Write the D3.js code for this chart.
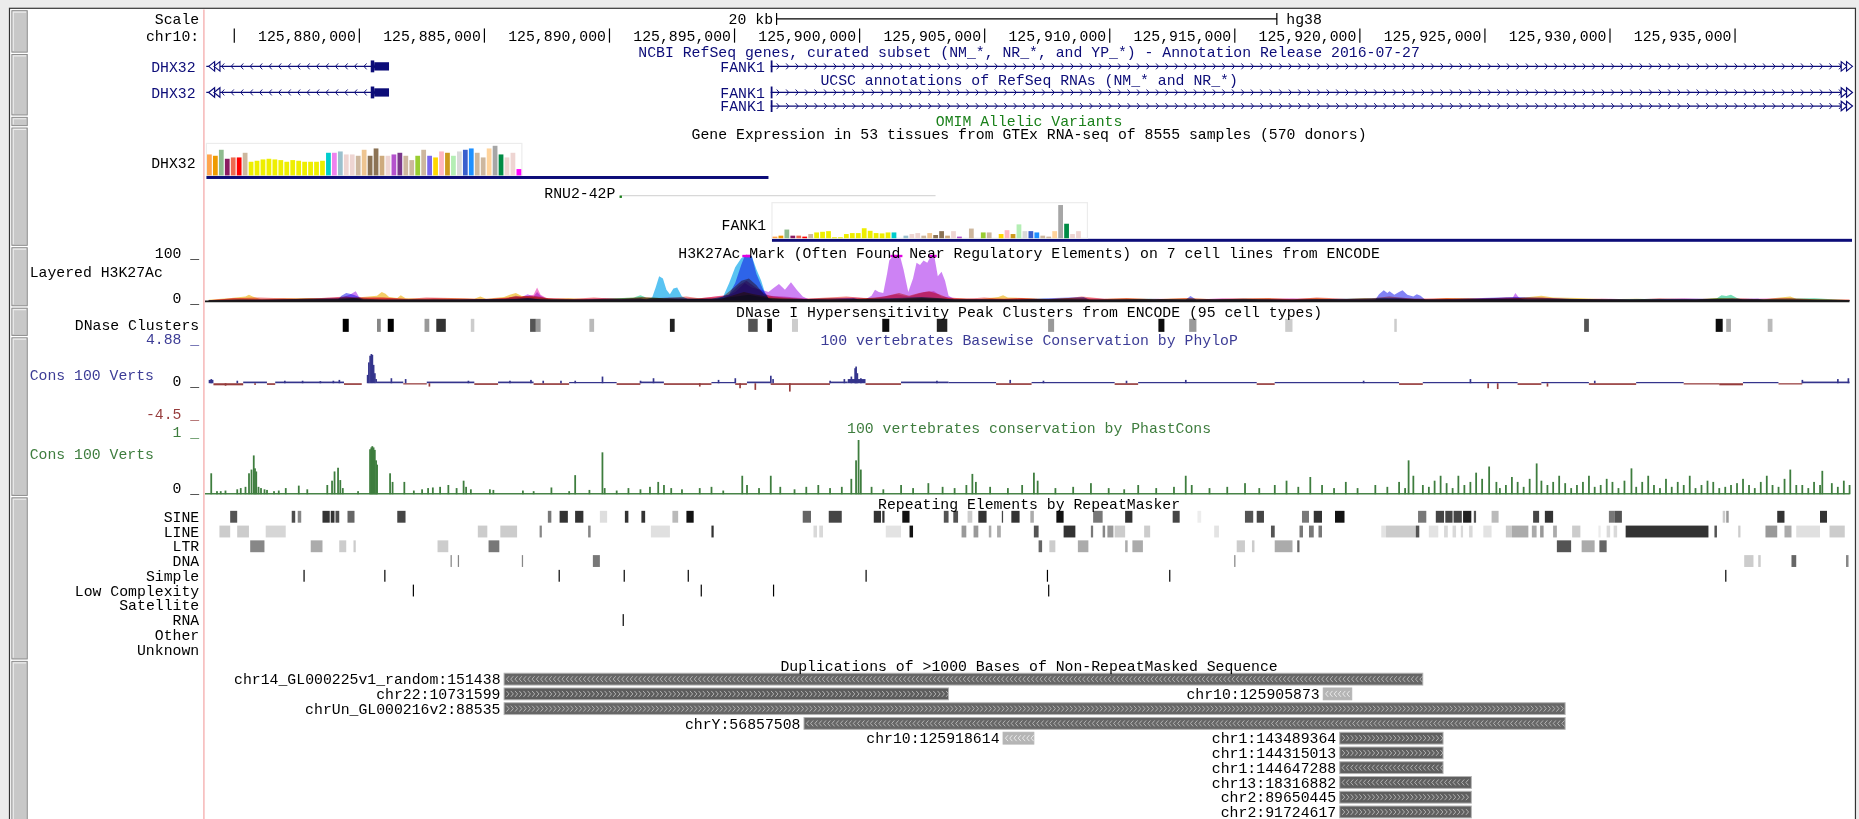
<!DOCTYPE html>
<html>
<head>
<meta charset="utf-8">
<title>chr10:125,873,810-125,939,600</title>
<script src="https://cdn.jsdelivr.net/npm/d3@7"></script>
<style>
  html, body { margin: 0; padding: 0; background: #fff; }
  svg { display: block; }
</style>
</head>
<body>
<svg id="browser"></svg>
<script>
// positions are kb past chr10:125,870,000
const CHROM_OFFSET = 125870000;
const viewStartKb = 3.81;
const viewEndKb = 69.60;
const rulerTicksKb = [5, 10, 15, 20, 25, 30, 35, 40, 45, 50, 55, 60, 65];

// RefSeq genes
const geneNames = ['DHX32', 'FANK1'];
const geneStrands = ['-', '+'];
const geneTx = [[3.2, 11.21], [26.47, 82.0]];
const geneExons = [[[10.48, 10.62, 1], [10.62, 11.21, 0]], [[26.47, 26.53, 1]]];
const ncbiRows = [['DHX32', 'FANK1']];
const ucscRows = [['DHX32', 'FANK1'], ['FANK1']];

// GTEx
const gtexColors = ['#FFA54F','#EE9A00','#8FBC8F','#8B1C62','#EE6A50','#FF0000','#CDB79E',
  '#EEEE00','#EEEE00','#EEEE00','#EEEE00','#EEEE00','#EEEE00','#EEEE00','#EEEE00','#EEEE00','#EEEE00','#EEEE00','#EEEE00','#EEEE00',
  '#00CDCD','#EE82EE','#9AC0CD','#EED5D2','#EED5D2','#CDB79E','#EEC591','#8B7355','#8B7355','#CDAA7D','#EED5D2',
  '#B452CD','#7A378B','#CDB79E','#CDB79E','#9ACD32','#CDB79E','#7A67EE','#FFD700','#FFB6C1','#CD9B1D','#B4EEB4',
  '#D9D9D9','#3A5FCD','#1E90FF','#CDB79E','#CDB79E','#FFD39B','#A6A6A6','#008B45','#EED5D2','#EED5D2','#FF00FF'];
const gtexDHX32 = [6.3,5.9,7.7,5.0,5.4,5.4,6.8,4.1,4.4,4.8,5.0,4.8,4.6,4.1,4.6,4.4,4.1,4.1,4.1,4.4,
  6.8,6.8,7.2,6.3,6.3,5.9,7.7,5.9,8.1,5.9,5.9,6.3,6.8,5.9,4.6,5.9,7.7,5.9,5.4,7.2,6.8,5.9,7.2,7.7,8.1,6.8,5.4,8.1,8.9,6.3,5.4,6.8,1.9];
const gtexFANK1 = [0.5,0.8,2.7,0.8,0.8,0.5,1.3,1.8,2.0,2.2,0.3,0.3,1.3,1.6,1.6,3.1,2.3,1.6,1.5,1.8,
  1.8,0,0.8,1.3,1.6,0.8,1.6,1.0,2.2,0.8,2.2,0.5,0,3.0,0,1.8,1.8,0,1.3,2.5,1.3,4.3,2.2,2.2,1.8,0.8,0.5,2.2,10.3,4.5,1.3,2.2,0];
const gtexGenes = ['DHX32', 'RNU2-42P', 'FANK1'];
const gtexStarts = [3.91, 20.45, 26.52];
const gtexEnds = [26.38, 20.50, 82.0];

// H3K27Ac layered signal, 7 cell lines, [kb, signal]
const h3GM12878 = [[4.0,2],[5.0,6],[6.0,8],[7.5,5],[8.5,7],[9.5,10],[10.0,6],[11.0,8],[12.0,5],[12.7,8],[14.2,6],[15.2,4],[16.3,10],[17.0,12],[17.6,6],[18.6,5],[19.4,8],[20.5,4],[21.3,9],[22.2,6],[23.1,10],[23.6,6],[24.6,12],[25.0,30],[25.3,45],[25.6,50],[25.9,35],[26.2,15],[26.6,10],[27.0,8],[27.8,5],[28.4,7],[29.5,10],[30.3,6],[31.0,10],[31.6,18],[32.0,12],[32.4,18],[32.8,22],[33.2,15],[33.6,6],[34.3,5],[35.0,8],[35.8,5],[36.5,7],[37.3,4],[38.3,6],[38.9,10],[39.8,5],[40.7,7],[41.8,4],[43.1,7],[44.2,4],[45.3,6],[46.4,7],[47.4,4],[48.3,8],[49.5,5],[50.5,6],[51.2,10],[52.2,5],[53.5,7],[54.7,5],[55.9,8],[57.3,6],[58.5,4],[59.7,5],[60.8,3],[62.0,6],[63.4,4],[64.9,7],[66.0,4],[67.2,6],[68.3,4],[69.6,3]];
const h3H1 = [[4.0,3],[4.9,7],[5.47,10],[5.61,14],[5.76,10],[6.09,4],[7.0,6],[8.0,7],[8.9,5],[9.6,6],[10.73,12],[10.92,20],[11.07,16],[11.21,9],[11.54,7],[11.68,13],[11.87,6],[12.7,5],[13.7,6],[14.62,5],[14.86,10],[15.09,5],[15.81,9],[16.04,14],[16.28,18],[16.52,11],[17.0,9],[17.8,5],[18.4,6],[19.3,4],[20.3,6],[21.26,8],[22.0,7],[22.8,4],[23.6,6],[24.5,5],[25.4,20],[25.8,15],[26.6,7],[27.6,4],[28.8,6],[29.6,4],[30.3,7],[31.2,5],[32.5,8],[33.3,6],[34.05,6],[34.8,4],[35.57,9],[35.76,13],[35.95,8],[36.9,6],[37.6,4],[38.3,7],[39.5,4],[40.7,6],[41.8,4],[43.0,6],[44.2,4],[45.4,5],[46.4,6],[47.3,4],[48.3,7],[49.2,4],[50.2,6],[51.0,5],[52.8,4],[53.5,7],[54.4,6],[55.5,4],[56.3,6],[56.8,9],[57.28,12],[57.75,8],[58.7,7],[59.8,4],[61.1,5],[62.3,3],[63.5,4],[64.3,7],[65.1,5],[66.2,4],[67.23,10],[67.47,5],[68.5,4],[69.6,3]];
const h3HSMM = [[4.0,2],[5.2,4],[6.5,3],[7.8,5],[9.9,6],[11.0,3],[12.2,4],[14.0,3],[15.6,4],[17.5,5],[19.0,3],[21.0,8],[21.26,13],[21.49,8],[23.1,5],[24.2,4],[25.6,14],[26.4,6],[27.5,5],[28.8,3],[30.0,5],[31.5,4],[32.5,7],[33.6,4],[35.0,4],[36.2,3],[37.4,5],[39.4,3],[41.6,5],[43.4,3],[45.4,5],[47.0,3],[48.3,4],[50.0,3],[52.0,5],[53.8,3],[55.3,5],[56.8,3],[58.2,4],[60.2,3],[62.0,4],[63.5,3],[64.30,6],[64.48,13],[64.67,11],[64.86,14],[65.10,7],[65.34,3],[66.8,5],[68.2,6],[69.6,2]];
const h3HUVEC = [[4.0,1],[6.5,3],[9.3,4],[9.8,6],[10.2,3],[12.7,3],[16.0,4],[16.8,6],[17.5,3],[20.3,3],[21.5,4],[21.73,8],[21.87,30],[22.01,55],[22.16,50],[22.30,25],[22.44,15],[22.58,28],[22.73,30],[22.92,10],[23.15,5],[24.1,5],[24.57,10],[24.81,40],[25.05,75],[25.29,95],[25.43,100],[25.57,110],[25.71,100],[25.90,70],[26.09,45],[26.23,20],[26.38,6],[27.0,4],[28.84,3],[30.5,5],[31.5,7],[32.5,9],[33.3,6],[33.8,3],[38.0,3],[43.25,4],[47.3,3],[51.0,7],[51.6,6],[52.2,3],[56.2,4],[64.5,5],[65.0,4],[69.6,2]];
const h3K562 = [[4.0,1],[5.5,3],[9.17,4],[9.31,12],[9.50,18],[9.64,16],[9.79,14],[9.97,10],[10.12,3],[12.3,3],[16.3,5],[16.75,7],[17.3,3],[21.26,6],[21.5,3],[24.34,5],[24.81,15],[25.05,40],[25.29,80],[25.43,105],[25.57,110],[25.71,100],[25.90,60],[26.09,35],[26.23,18],[26.38,6],[26.56,3],[29.79,7],[30.03,3],[33.0,4],[36.42,4],[38.98,9],[39.22,3],[43.06,3],[43.25,11],[43.49,3],[44.48,3],[50.64,3],[50.79,15],[50.98,24],[51.12,18],[51.21,22],[51.40,14],[51.59,20],[51.73,24],[51.92,14],[52.16,10],[52.30,15],[52.45,12],[52.64,3],[56.24,9],[59.65,3],[65.95,5],[66.2,2],[69.6,1]];
const h3NHEK = [[4.0,1],[6.09,3],[9.31,8],[9.64,14],[9.88,22],[10.0,10],[10.2,4],[13.2,3],[15.81,4],[16.04,8],[16.28,12],[16.52,9],[16.75,15],[16.99,10],[17.13,20],[17.27,12],[17.46,6],[17.70,3],[18.41,3],[22.0,4],[24.57,6],[25.05,20],[25.43,40],[25.71,30],[26.09,25],[26.38,20],[26.56,28],[26.80,38],[27.04,25],[27.28,42],[27.51,25],[27.75,10],[27.99,4],[29.31,4],[30.26,4],[30.50,12],[30.64,25],[30.79,20],[30.97,18],[31.12,60],[31.21,90],[31.35,110],[31.49,110],[31.64,110],[31.78,70],[31.97,20],[32.16,50],[32.30,85],[32.44,80],[32.58,90],[32.73,85],[32.87,110],[33.01,110],[33.15,55],[33.30,65],[33.44,45],[33.58,12],[33.82,4],[35.5,4],[41.6,3],[47.3,4],[53.5,4],[55.29,6],[56.14,8],[56.24,18],[56.38,8],[56.6,3],[62.0,3],[69.6,1]];
const h3NHLF = [[4.0,2],[5.0,6],[6.2,4],[7.0,5],[8.2,4],[9.6,9],[10.9,8],[12.0,4],[13.0,6],[14.0,4],[15.2,5],[16.5,9],[16.99,14],[17.13,30],[17.27,14],[17.5,7],[18.5,4],[19.8,6],[21.0,4],[22.4,8],[23.5,5],[24.8,14],[25.2,35],[25.5,45],[26.0,25],[26.4,12],[27.0,10],[28.0,5],[29.0,6],[29.8,8],[30.6,6],[31.5,15],[32.0,10],[32.6,20],[33.0,22],[33.3,10],[34.0,6],[35.0,4],[36.4,6],[37.5,4],[39.0,7],[40.2,4],[42.0,5],[43.3,3],[44.5,6],[46.0,4],[47.3,6],[49.0,4],[50.2,5],[51.5,7],[53.0,4],[54.5,5],[55.9,7],[57.3,8],[58.6,4],[60.0,5],[61.5,3],[63.0,6],[64.5,4],[65.5,5],[66.8,6],[68.2,3],[69.6,3]];
const h3Colors = ['#f07474', '#f2c64c', '#5cd6a8', '#3cb8f0', '#6c6cf4', '#c46cf2', '#f070c8'];

// DNase clusters [start, end, score]
const dnaseClusters = [[9.36,9.60,1000],[10.73,10.88,470],[11.16,11.40,1000],[12.63,12.82,400],[13.10,13.48,800],[14.48,14.62,200],[16.85,17.08,670],[17.08,17.27,400],[19.22,19.41,270],[22.44,22.63,870],[25.57,25.95,670],[26.33,26.52,950],[27.32,27.56,200],[30.93,31.21,950],[33.11,33.53,870],[37.56,37.80,400],[41.97,42.21,950],[43.20,43.49,400],[47.04,47.33,200],[51.40,51.50,200],[58.99,59.18,670],[64.25,64.53,950],[64.67,64.86,330],[66.33,66.52,270]];

// PhyloP: flat stretches [start, end, score] and spikes [kb, score]
const phyloPStretches = [[4.00,4.19,0.4],[4.19,5.38,-0.25],[5.38,6.33,0.2],[6.33,6.66,-0.2],[6.66,9.41,0.2],[9.41,10.12,-0.2],[10.73,11.78,0.2],[11.78,12.72,-0.15],[12.72,14.62,0.2],[14.62,15.57,-0.2],[15.57,16.99,0.2],[16.99,18.41,-0.2],[18.41,20.31,0.15],[20.31,21.26,-0.2],[21.26,22.20,0.2],[22.20,24.10,-0.2],[24.10,25.05,0.15],[25.05,25.52,-0.2],[25.52,26.47,0.2],[26.47,28.84,-0.2],[28.84,29.55,0.2],[29.55,30.26,0.5],[30.26,31.68,-0.2],[31.68,33.58,0.2],[33.58,35.48,0.15],[35.48,36.90,-0.2],[36.90,40.22,0.15],[40.22,41.16,-0.2],[41.16,45.90,0.15],[45.90,46.62,-0.2],[46.62,51.59,0.15],[51.59,52.54,-0.2],[52.54,56.33,0.15],[56.33,57.28,-0.2],[57.28,59.18,0.15],[59.18,61.07,-0.2],[61.07,62.97,0.15],[62.97,64.39,-0.15],[64.39,65.34,-0.25],[65.34,66.76,0.15],[66.76,67.71,-0.15],[67.71,69.60,0.2]];
const phyloPSpikes = [[4.10,0.5],[4.67,-0.3],[5.14,0.3],[5.85,-0.2],[7.04,0.3],[7.75,0.3],[8.46,0.25],[8.98,0.3],[9.22,0.4],[10.35,1.0],[10.40,2.5],[10.45,3.3],[10.50,3.5],[10.54,3.4],[10.59,2.2],[10.64,1.2],[10.69,0.5],[11.30,0.6],[11.87,0.5],[12.82,-0.4],[14.38,0.3],[16.04,0.3],[16.88,0.4],[17.37,0.3],[18.08,0.3],[18.65,0.3],[19.74,0.8],[21.26,0.3],[21.78,0.6],[23.63,-0.4],[24.38,0.4],[25.05,0.6],[25.24,-0.6],[25.85,-0.8],[26.47,0.9],[26.56,0.5],[27.23,-1.0],[28.84,0.3],[29.41,0.5],[29.69,0.8],[29.84,1.8],[29.88,2.0],[29.93,1.2],[30.07,0.6],[33.11,0.3],[36.04,0.4],[37.37,0.3],[40.69,0.3],[43.06,0.4],[50.17,0.3],[54.44,0.5],[55.15,-0.6],[55.53,-0.7],[57.52,-0.4],[59.41,0.3],[67.71,0.4],[69.13,0.5],[69.55,0.6]];

// PhastCons [kb, score]
const phastCons = [[4.10,0.34],[4.33,0.05],[4.48,0.05],[4.67,0.06],[5.14,0.08],[5.28,0.1],[5.47,0.12],[5.61,0.34],[5.71,0.40],[5.80,0.63],[5.85,0.42],[5.90,0.37],[5.99,0.12],[6.09,0.1],[6.23,0.08],[6.33,0.07],[6.61,0.05],[6.80,0.06],[7.08,0.1],[7.60,0.14],[7.94,0.08],[8.74,0.15],[8.93,0.22],[9.03,0.37],[9.17,0.43],[9.26,0.23],[9.36,0.1],[9.97,0.05],[10.45,0.73],[10.50,0.76],[10.54,0.78],[10.59,0.76],[10.64,0.72],[10.69,0.55],[10.73,0.48],[11.25,0.34],[11.35,0.2],[11.82,0.2],[12.20,0.06],[12.53,0.08],[12.77,0.1],[12.96,0.11],[13.25,0.12],[13.58,0.15],[13.91,0.10],[14.19,0.22],[14.29,0.12],[14.48,0.08],[15.24,0.08],[15.38,0.07],[16.56,0.06],[16.99,0.05],[17.70,0.11],[18.41,0.05],[18.65,0.31],[19.22,0.07],[19.74,0.68],[19.83,0.1],[20.31,0.06],[20.78,0.1],[21.26,0.08],[21.64,0.12],[21.97,0.2],[22.20,0.15],[22.49,0.1],[22.92,0.08],[23.63,0.1],[24.10,0.12],[24.57,0.06],[25.33,0.3],[25.52,0.15],[26.00,0.1],[26.47,0.3],[26.85,0.12],[27.42,0.08],[27.89,0.12],[28.37,0.15],[28.84,0.1],[29.31,0.12],[29.69,0.25],[29.88,0.55],[29.98,0.88],[30.07,0.4],[30.50,0.12],[30.97,0.08],[31.68,0.15],[32.16,0.1],[32.77,0.18],[33.34,0.12],[33.82,0.1],[34.29,0.15],[34.53,0.33],[34.67,0.2],[35.24,0.12],[35.95,0.1],[36.52,0.15],[36.99,0.35],[37.14,0.22],[37.85,0.1],[38.56,0.12],[39.27,0.18],[39.98,0.1],[40.60,0.08],[41.16,0.15],[41.88,0.1],[42.59,0.12],[43.06,0.3],[43.30,0.15],[44.01,0.1],[44.72,0.12],[45.43,0.18],[46.00,0.1],[46.62,0.15],[47.09,0.22],[47.56,0.12],[48.04,0.28],[48.51,0.15],[48.99,0.1],[49.46,0.2],[49.93,0.1],[50.64,0.15],[51.12,0.12],[51.59,0.2],[51.83,0.1],[51.97,0.55],[52.16,0.3],[52.54,0.15],[52.78,0.12],[53.01,0.22],[53.25,0.3],[53.49,0.18],[53.73,0.1],[53.96,0.3],[54.20,0.15],[54.44,0.2],[54.67,0.35],[54.91,0.25],[55.19,0.45],[55.48,0.2],[55.62,0.1],[55.86,0.15],[56.10,0.28],[56.33,0.2],[56.57,0.12],[56.81,0.25],[57.09,0.5],[57.28,0.22],[57.52,0.15],[57.75,0.2],[57.99,0.3],[58.23,0.18],[58.47,0.1],[58.70,0.15],[58.94,0.2],[59.18,0.3],[59.41,0.12],[59.65,0.15],[59.89,0.25],[60.12,0.2],[60.36,0.1],[60.60,0.22],[60.88,0.42],[61.07,0.12],[61.31,0.2],[61.55,0.3],[61.78,0.15],[62.02,0.1],[62.26,0.25],[62.49,0.12],[62.73,0.2],[62.97,0.15],[63.21,0.3],[63.44,0.1],[63.68,0.15],[63.92,0.22],[64.15,0.2],[64.39,0.1],[64.63,0.12],[64.86,0.15],[65.10,0.18],[65.34,0.25],[65.58,0.15],[65.81,0.1],[66.05,0.2],[66.29,0.3],[66.52,0.15],[66.76,0.12],[67.00,0.25],[67.23,0.4],[67.47,0.15],[67.71,0.15],[67.95,0.1],[68.18,0.2],[68.42,0.15],[68.51,0.38],[68.89,0.18],[69.13,0.12],[69.37,0.22],[69.60,0.15]];

// RepeatMasker [start, end, score]
const repeatClasses = ['SINE', 'LINE', 'LTR', 'DNA', 'Simple', 'Low Complexity', 'Satellite', 'RNA', 'Other', 'Unknown'];
const repSINE = [[4.86,5.14,670],[7.32,7.46,700],[7.56,7.70,470],[8.55,8.84,800],[8.88,9.03,800],[9.07,9.22,700],[9.55,9.83,600],[11.54,11.87,730],[17.56,17.70,530],[18.03,18.36,800],[18.65,18.98,800],[19.64,19.93,130],[20.64,20.78,800],[21.30,21.45,800],[22.54,22.77,270],[23.10,23.39,930],[27.75,28.08,600],[28.79,29.31,730],[30.59,30.88,800],[30.93,31.02,800],[31.73,32.02,930],[33.39,33.58,670],[33.77,33.96,670],[34.34,34.53,200],[34.77,35.10,800],[35.71,35.76,730],[36.09,36.42,800],[36.85,36.99,330],[37.89,38.18,930],[39.36,39.74,530],[40.64,40.93,800],[42.54,42.82,730],[43.53,43.68,70],[45.43,45.76,670],[45.90,46.19,730],[47.71,47.99,530],[48.18,48.51,800],[49.03,49.41,930],[52.35,52.68,530],[53.06,53.39,730],[53.44,53.73,730],[53.77,54.10,730],[54.15,54.48,870],[54.58,54.67,670],[55.29,55.57,270],[56.95,57.19,730],[57.42,57.75,800],[59.98,60.22,530],[60.22,60.50,670],[64.53,64.63,200],[64.67,64.77,400],[66.71,67.00,800],[68.42,68.70,800],[69.79,69.89,800]];
const repLINE = [[4.43,4.86,200],[5.14,5.61,200],[6.28,7.08,160],[14.76,15.14,200],[15.66,16.33,200],[17.23,17.32,470],[19.17,19.27,470],[21.68,22.44,120],[24.10,24.19,800],[28.18,28.32,150],[28.41,28.56,150],[31.07,31.68,110],[32.02,32.16,930],[34.10,34.29,400],[34.58,34.77,400],[35.19,35.29,330],[35.52,35.67,330],[36.99,37.18,670],[38.18,38.65,800],[39.27,39.36,530],[39.74,39.84,470],[39.93,40.17,400],[40.22,40.64,200],[41.40,41.64,200],[44.20,44.39,110],[46.47,46.62,670],[47.61,47.75,530],[47.99,48.18,530],[48.37,48.51,530],[50.88,51.07,110],[51.07,52.26,200],[52.26,52.40,670],[52.78,53.16,110],[53.39,53.54,150],[53.73,53.87,150],[54.06,54.15,150],[54.39,54.53,150],[54.96,55.29,110],[55.86,56.10,200],[56.10,56.76,330],[56.90,57.09,330],[57.23,57.37,400],[57.75,57.90,330],[58.51,58.84,200],[59.56,59.65,80],[59.89,60.03,150],[60.17,60.31,150],[60.65,63.96,800],[64.20,64.30,670],[65.15,65.24,200],[66.24,66.71,400],[67.00,67.28,330],[67.47,68.42,120],[68.80,69.41,200]];
const repLTR = [[5.66,6.23,470],[8.08,8.55,330],[9.22,9.50,200],[9.79,9.88,200],[13.15,13.58,200],[15.19,15.62,530],[37.18,37.32,600],[37.61,37.85,200],[38.75,39.17,330],[40.64,40.74,330],[40.93,41.35,330],[45.10,45.43,200],[45.71,45.81,200],[46.62,47.33,330],[47.52,47.61,600],[57.90,58.47,670],[58.89,59.41,330],[59.60,59.89,600]];
const repDNA = [[13.67,13.72,470],[13.96,14.01,470],[16.52,16.57,470],[19.36,19.64,530],[45.00,45.05,470],[65.39,65.76,200],[65.95,66.05,200],[67.28,67.47,600],[69.46,69.56,470]];
const repSimple = [[7.79,7.83,1000],[11.02,11.06,1000],[17.99,18.03,1000],[20.59,20.63,1000],[23.15,23.19,1000],[30.26,30.30,1000],[37.51,37.55,1000],[42.40,42.44,1000],[64.63,64.67,1000]];
const repLowComplexity = [[12.16,12.20,1000],[23.67,23.71,1000],[26.56,26.60,1000],[37.56,37.60,1000]];
const repRNA = [[20.55,20.59,1000]];
const repSatellite = [], repOther = [], repUnknown = [];

// Segmental duplications
const dupNames = ['chr14_GL000225v1_random:151438', 'chr22:10731599', 'chr10:125905873', 'chrUn_GL000216v2:88535', 'chrY:56857508', 'chr10:125918614', 'chr1:143489364', 'chr1:144315013', 'chr1:144647288', 'chr13:18316882', 'chr2:89650445', 'chr2:91724617'];
const dupStarts = [15.81, 15.81, 48.56, 15.81, 27.80, 35.76, 49.22, 49.22, 49.22, 49.22, 49.22, 49.22];
const dupEnds = [52.54, 33.58, 49.70, 58.23, 58.23, 36.99, 53.35, 53.35, 53.35, 54.48, 54.48, 54.48];
const dupStrands = ['-', '+', '-', '+', '-', '-', '+', '+', '-', '-', '+', '+'];
const dupMatch = [0.965, 0.972, 0.91, 0.965, 0.965, 0.91, 0.97, 0.97, 0.97, 0.97, 0.97, 0.97];

//SETUP
const W = 1568, H = 691;
const LEFT = 172, RIGHT = 1560, LABEL_X = 168, MID_X = 868;
const NAVY = '#0c0c78', PHYLO_BLUE = '#34348c', PHYLO_RED = '#963c3c', CONS_GREEN = '#3e7d3e';

const svg = d3.select('#browser')
    .attr('width', 1859).attr('height', 819)
    .attr('viewBox', `0 0 ${W} ${H}`)
    .attr('preserveAspectRatio', 'none')
    .style('font-family', '"Liberation Mono", "DejaVu Sans Mono", monospace')
    .style('font-size', '12.5px');

const x = d3.scaleLinear().domain([viewStartKb, viewEndKb]).range([LEFT, RIGHT]);
const gray = score => { const g = Math.round(255 * (1 - score / 1000)); return `rgb(${g},${g},${g})`; };

const txt = (s, px, py, anchor, color) => svg.append('text')
    .attr('x', px).attr('y', py).attr('dy', '0.35em')
    .attr('text-anchor', anchor || 'end').attr('fill', color || '#000').text(s);

//FRAME
svg.append('rect').attr('width', W).attr('height', H).attr('fill', '#ececec');
svg.append('rect').attr('x', 8).attr('y', 7).attr('width', 1557).attr('height', H)
    .attr('fill', '#fff').attr('stroke', '#333').attr('stroke-width', 1);

const sideButtons = [[9, 44], [46, 97], [99, 106], [108, 207], [209, 258], [260, 283], [285, 418], [420, 556], [558, 700]];
sideButtons.forEach(([a, b]) => {
    svg.append('rect').attr('x', 10).attr('y', a).attr('width', 13).attr('height', b - a)
        .attr('fill', '#c8c8c8').attr('stroke', '#8a8a8a').attr('stroke-width', 0.8);
    svg.append('path').attr('d', `M11.2,${b - 1}V${a + 1.2}H22`).attr('stroke', '#ececec').attr('fill', 'none');
});
svg.append('line').attr('x1', LEFT).attr('x2', LEFT).attr('y1', 8).attr('y2', H)
    .attr('stroke', '#f4a3a3').attr('stroke-width', 1);

const defs = svg.append('defs');
defs.append('clipPath').attr('id', 'dataClip').append('rect')
    .attr('x', LEFT + 1).attr('y', 0).attr('width', RIGHT - LEFT + 1).attr('height', H);
const plot = svg.append('g').attr('clip-path', 'url(#dataClip)');

//RULER
txt('Scale', LABEL_X, 16);
txt('chr10:', LABEL_X, 30);
const midKb = (viewStartKb + viewEndKb) / 2;
const sb0 = x(midKb - 10), sb1 = x(midKb + 10);
svg.append('path').attr('d', `M${sb0},11V21M${sb0},16H${sb1}M${sb1},11V21`).attr('stroke', '#000').attr('fill', 'none');
txt('20 kb', sb0 - 3, 16);
txt('hg38', sb1 + 8, 16, 'start');

const ruler = svg.append('g').attr('transform', 'translate(0,36)')
    .call(d3.axisTop(x).tickValues(rulerTicksKb).tickSize(12)
        .tickFormat(v => d3.format(',')(CHROM_OFFSET + v * 1000)));
ruler.attr('font-size', null).attr('font-family', null);
ruler.select('.domain').remove();
ruler.selectAll('.tick line').attr('stroke', '#000');
ruler.selectAll('.tick text').attr('text-anchor', 'end').attr('x', -3).attr('y', -6).attr('dy', '0.35em').attr('fill', '#000')
    .each(function (d) {
        if (x(d) - 3 - this.getComputedTextLength() < LEFT + 4) d3.select(this).remove();
    });

//GENES
const chevrons = (x0, x1, y, strand, step) => {
    let d = '';
    for (let p = x0 + 5; p < x1 - 4; p += step) {
        d += strand === '+' ? `M${p},${y - 2.5}L${p + 2.2},${y}L${p},${y + 2.5}` : `M${p + 2.2},${y - 2.5}L${p},${y}L${p + 2.2},${y + 2.5}`;
    }
    return d;
};

const drawGene = (name, y, color) => {
    const i = geneNames.indexOf(name);
    const [s, e] = geneTx[i];
    const x0 = Math.max(x(s), LEFT + 2), x1 = Math.min(x(e), RIGHT);
    plot.append('line').attr('x1', x0).attr('x2', x1).attr('y1', y).attr('y2', y).attr('stroke', color);
    plot.append('path').attr('d', chevrons(x0, x1, y, geneStrands[i], 8)).attr('stroke', color).attr('fill', 'none').attr('stroke-width', 0.8);
    geneExons[i].forEach(([a, b, thick]) => {
        const hh = thick ? 10 : 7;
        plot.append('rect').attr('x', x(a)).attr('y', y - hh / 2).attr('width', Math.max(1.5, x(b) - x(a))).attr('height', hh).attr('fill', color);
    });
    if (x(s) < LEFT) {
        [176, 180.5].forEach(a => svg.append('path').attr('d', `M${a},${y}L${a + 5},${y - 4}V${y + 4}Z`).attr('fill', '#fff').attr('stroke', color));
    }
    if (x(e) > RIGHT) {
        [1553, 1557.5].forEach(a => svg.append('path').attr('d', `M${a + 5},${y}L${a},${y - 4}V${y + 4}Z`).attr('fill', '#fff').attr('stroke', color));
    }
    const lx = x(s) < LEFT ? LABEL_X - 3 : x(s) - 5;
    txt(name, lx, y, 'end', color);
};

txt('NCBI RefSeq genes, curated subset (NM_*, NR_*, and YP_*) - Annotation Release 2016-07-27', MID_X, 44, 'middle', NAVY);
ncbiRows.forEach((row, r) => row.forEach(n => drawGene(n, 56 + r * 11.5, NAVY)));
txt('UCSC annotations of RefSeq RNAs (NM_* and NR_*)', MID_X, 67, 'middle', NAVY);
ucscRows.forEach((row, r) => row.forEach(n => drawGene(n, 78 + r * 11.5, NAVY)));
txt('OMIM Allelic Variants', MID_X, 102, 'middle', '#1a801a');

//GTEX
txt('Gene Expression in 53 tissues from GTEx RNA-seq of 8555 samples (570 donors)', MID_X, 113, 'middle');
const BAR_W = 5.02;
const drawGtex = (name, values, baseY, height) => {
    const i = gtexGenes.indexOf(name);
    const gx = Math.max(x(gtexStarts[i]), LEFT + 2);
    const yScale = d3.scaleLinear().domain([0, d3.max(values)]).range([baseY, baseY - height]);
    svg.append('rect').attr('x', gx).attr('y', baseY - height - 2).attr('width', values.length * BAR_W).attr('height', height + 2)
        .attr('fill', 'none').attr('stroke', '#ececec');
    svg.selectAll(null).data(values).join('rect')
        .attr('x', (d, k) => gx + k * BAR_W + 0.5).attr('width', BAR_W - 1)
        .attr('y', d => yScale(d)).attr('height', d => baseY - yScale(d))
        .attr('fill', (d, k) => gtexColors[k]);
    plot.append('rect').attr('x', x(gtexStarts[i])).attr('y', baseY + 0.5)
        .attr('width', x(gtexEnds[i]) - x(gtexStarts[i])).attr('height', 2.5).attr('fill', NAVY);
    txt(name, x(gtexStarts[i]) < LEFT + 4 ? LABEL_X - 3 : gx - 5, baseY - 11);
};
drawGtex('DHX32', gtexDHX32, 148, 25);
drawGtex('FANK1', gtexFANK1, 201, 28);
{
    const i = gtexGenes.indexOf('RNU2-42P');
    const gx = x(gtexStarts[i]);
    svg.append('line').attr('x1', gx).attr('x2', gx + gtexColors.length * BAR_W).attr('y1', 165).attr('y2', 165).attr('stroke', '#d8d8d8');
    svg.append('rect').attr('x', gx - 0.5).attr('y', 165).attr('width', Math.max(2, x(gtexEnds[i]) - gx)).attr('height', 2).attr('fill', '#1a801a');
    txt('RNU2-42P', gx - 4, 163);
}

//H3K27AC
txt('H3K27Ac Mark (Often Found Near Regulatory Elements) on 7 cell lines from ENCODE', MID_X, 213, 'middle');
txt('100 _', LABEL_X, 213);
txt('Layered H3K27Ac', 25, 229, 'start');
txt('0 _', LABEL_X, 251);
const yH3 = d3.scaleLinear().domain([0, 100]).range([254, 216]).clamp(true);
const h3Area = d3.area().x(d => x(d[0])).y0(yH3(0)).y1(d => yH3(d[1]));
const h3Group = plot.append('g').style('isolation', 'isolate');
const h3Series = [h3GM12878, h3H1, h3HSMM, h3HUVEC, h3K562, h3NHEK, h3NHLF];
h3Series.forEach((s, i) => {
    h3Group.append('path').datum(s).attr('d', h3Area)
        .attr('fill', h3Colors[i]).attr('fill-opacity', 0.85).style('mix-blend-mode', 'multiply');
});
h3Series.forEach(s => {
    s.filter(d => d[1] > 100).forEach(d => {
        plot.append('rect').attr('x', x(d[0]) - 2).attr('y', 215).attr('width', 4).attr('height', 2).attr('fill', '#e000e0');
    });
});
plot.append('line').attr('x1', LEFT).attr('x2', RIGHT).attr('y1', 254.3).attr('y2', 254.3).attr('stroke', '#1a1a1a').attr('stroke-width', 1.4);

//DNASE
txt('DNase I Hypersensitivity Peak Clusters from ENCODE (95 cell types)', MID_X, 263, 'middle');
txt('DNase Clusters', LABEL_X, 274);
plot.selectAll(null).data(dnaseClusters).join('rect')
    .attr('x', d => x(d[0])).attr('width', d => Math.max(1.5, x(d[1]) - x(d[0])))
    .attr('y', 269).attr('height', 11).attr('fill', d => gray(d[2]));

//PHYLOP
txt('100 vertebrates Basewise Conservation by PhyloP', MID_X, 287, 'middle', '#3c3c96');
txt('4.88 _', LABEL_X, 286, 'end', '#3c3c96');
txt('Cons 100 Verts', 25, 316, 'start', '#3c3c96');
txt('0 _', LABEL_X, 321);
txt('-4.5 _', LABEL_X, 349, 'end', PHYLO_RED);
const yP = d3.scaleLinear().domain([-4.5, 4.88]).range([355, 289]);
const pBar = (x0, x1, v) => plot.append('rect')
    .attr('x', x0).attr('width', Math.max(1, x1 - x0))
    .attr('y', Math.min(yP(0), yP(v))).attr('height', Math.max(1, Math.abs(yP(v) - yP(0))))
    .attr('fill', v >= 0 ? PHYLO_BLUE : PHYLO_RED);
phyloPStretches.forEach(d => pBar(x(d[0]), x(d[1]), d[2]));
phyloPSpikes.forEach(d => pBar(x(d[0]) - 0.6, x(d[0]) + 0.8, d[1]));

//PHASTCONS
txt('100 vertebrates conservation by PhastCons', MID_X, 361, 'middle', CONS_GREEN);
txt('1 _', LABEL_X, 364, 'end', CONS_GREEN);
txt('Cons 100 Verts', 25, 383, 'start', CONS_GREEN);
txt('0 _', LABEL_X, 412);
const yC = d3.scaleLinear().domain([0, 1]).range([417, 365]);
plot.append('rect').attr('x', LEFT).attr('y', 416).attr('width', RIGHT - LEFT).attr('height', 1.2).attr('fill', CONS_GREEN);
plot.selectAll(null).data(phastCons).join('rect')
    .attr('x', d => x(d[0]) - 0.7).attr('width', 1.5)
    .attr('y', d => yC(d[1])).attr('height', d => 417 - yC(d[1])).attr('fill', CONS_GREEN);

//REPEATMASKER
txt('Repeating Elements by RepeatMasker', MID_X, 425, 'middle');
const repeatData = [repSINE, repLINE, repLTR, repDNA, repSimple, repLowComplexity, repSatellite, repRNA, repOther, repUnknown];
repeatClasses.forEach((cls, i) => {
    const cy = 436 + i * 12.45;
    txt(cls, LABEL_X, cy);
    plot.selectAll(null).data(repeatData[i]).join('rect')
        .attr('x', d => x(d[0])).attr('width', d => Math.max(1, x(d[1]) - x(d[0])))
        .attr('y', cy - 5).attr('height', 10).attr('fill', d => gray(d[2]));
});

//DUPLICATIONS
txt('Duplications of >1000 Bases of Non-RepeatMasked Sequence', MID_X, 562, 'middle');
const dupShade = d3.scaleLinear().domain([0.90, 0.98]).range([196, 80]).clamp(true);
const measure = svg.append('text').attr('x', 0).attr('y', 0).attr('opacity', 0);
const packed = [];
dupNames.forEach((name, i) => {
    const lw = measure.text(name).node().getComputedTextLength();
    const x0 = x(dupStarts[i]), x1 = x(dupEnds[i]);
    const span = [x0 - lw - 6, x1 + 3];
    let row = 0;
    while (packed[row] && packed[row].some(o => span[0] < o[1] && span[1] > o[0])) row++;
    (packed[row] = packed[row] || []).push(span);
    const cy = 573 + row * 12.45;
    const g = dupShade(dupMatch[i]);
    plot.append('rect').attr('x', x0).attr('y', cy - 5).attr('width', x1 - x0).attr('height', 10)
        .attr('fill', `rgb(${g},${g},${g})`).attr('stroke', '#b4b4b4').attr('stroke-width', 0.8);
    plot.append('path').attr('d', chevrons(x0 - 3, x1 + 2, cy, dupStrands[i], 3.6))
        .attr('stroke', g > 150 ? '#f4f4f4' : '#c4c4c4').attr('stroke-width', 0.7).attr('fill', 'none');
    txt(name, x0 - 3, cy);
});
measure.remove();
</script>
</body>
</html>
